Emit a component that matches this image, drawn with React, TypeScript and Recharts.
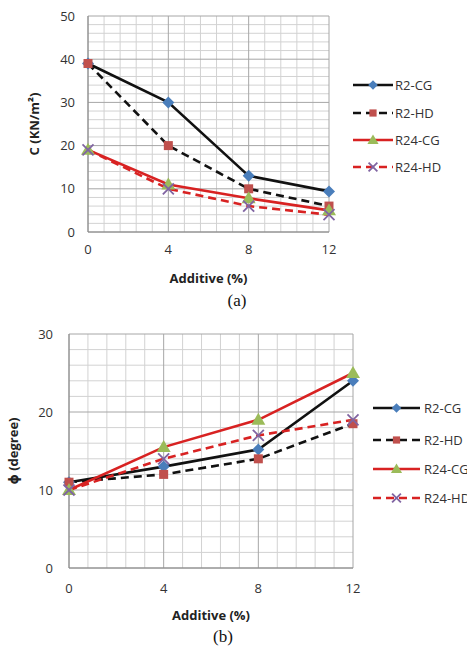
import { LineChart, Line, XAxis, YAxis, ReferenceLine } from "recharts";

// additive content (%)
const additive = [0, 4, 8, 12];

// (a) cohesion C (kN/m2)
const cR2CG = [39, 30, 13, 9.4];
const cR2HD = [39, 20, 10, 6];
const cR24CG = [19, 11, 7.8, 5];
const cR24HD = [19, 10, 6, 4];

// (b) friction angle phi (degree)
const pR2CG = [11, 13, 15.2, 24];
const pR2HD = [11, 12, 14, 18.5];
const pR24CG = [10, 15.5, 19, 25];
const pR24HD = [10, 14, 17, 19];

const seriesNames = ["R2-CG", "R2-HD", "R24-CG", "R24-HD"];

const cTicks = [0, 10, 20, 30, 40, 50];
const pTicks = [0, 10, 20, 30];
const cMinor = [2, 4, 6, 8, 12, 14, 16, 18, 22, 24, 26, 28, 32, 34, 36, 38, 42, 44, 46, 48];
const pMinor = [2, 4, 6, 8, 12, 14, 16, 18, 22, 24, 26, 28];
const xMinor = [0.8, 1.6, 2.4, 3.2, 4.8, 5.6, 6.4, 7.2, 8.8, 9.6, 10.4, 11.2];

const dataA = additive.map((x, i) => ({ x, a: cR2CG[i], b: cR2HD[i], c: cR24CG[i], d: cR24HD[i] }));
const dataB = additive.map((x, i) => ({ x, a: pR2CG[i], b: pR2HD[i], c: pR24CG[i], d: pR24HD[i] }));

const FONT = "'Open Sans', 'DejaVu Sans', sans-serif";
const RED = "#d82222";
const MAJOR = "#a6a6a6";
const MINOR = "#d2d2d2";
const tickStyle = { fontSize: 13, fill: "#333", fontFamily: FONT };
const labelStyle = { fontSize: 13, fontWeight: 700, fill: "#222", fontFamily: FONT, textAnchor: "middle" as const };

type MarkerKind = "diamond" | "square" | "triangle" | "cross";

function Marker({ kind, cx, cy, s = 1 }: { kind: MarkerKind; cx: number; cy: number; s?: number }) {
  if (cx == null || cy == null) return null;
  if (kind === "diamond") {
    const r = 6 * s;
    return <polygon points={`${cx},${cy - r} ${cx + r},${cy} ${cx},${cy + r} ${cx - r},${cy}`} fill="#4a7ebb" />;
  }
  if (kind === "square") {
    const h = 4.5 * s;
    return <rect x={cx - h} y={cy - h} width={h * 2} height={h * 2} fill="#c0504d" />;
  }
  if (kind === "triangle") {
    const r = 7 * s;
    return <polygon points={`${cx},${cy - r} ${cx + r},${cy + r * 0.7} ${cx - r},${cy + r * 0.7}`} fill="#9bbb59" />;
  }
  const r = 5.5 * s;
  return (
    <g stroke="#8064a2" strokeWidth={1.8}>
      <line x1={cx - r} y1={cy - r} x2={cx + r} y2={cy + r} />
      <line x1={cx - r} y1={cy + r} x2={cx + r} y2={cy - r} />
    </g>
  );
}

const styles: { key: string; color: string; dash?: string; marker: MarkerKind }[] = [
  { key: "a", color: "#111", marker: "diamond" },
  { key: "b", color: "#111", dash: "8 5", marker: "square" },
  { key: "c", color: RED, marker: "triangle" },
  { key: "d", color: RED, dash: "8 5", marker: "cross" },
];

function renderLines() {
  return styles.map((s) => (
    <Line
      key={s.key}
      type="linear"
      dataKey={s.key}
      stroke={s.color}
      strokeWidth={2.6}
      strokeDasharray={s.dash}
      dot={(p: any) => <Marker key={`${s.key}-${p.index}`} kind={s.marker} cx={p.cx} cy={p.cy} />}
      activeDot={false}
      isAnimationActive={false}
    />
  ));
}

// grid drawn as reference lines: light minor lines, darker major lines
function gridLines(yMinor: number[], yMajor: number[]) {
  return [
    ...yMinor.map((v) => <ReferenceLine key={`hm${v}`} y={v} stroke={MINOR} strokeWidth={1} />),
    ...xMinor.map((v) => <ReferenceLine key={`vm${v}`} x={v} stroke={MINOR} strokeWidth={1} />),
    ...yMajor.map((v) => <ReferenceLine key={`h${v}`} y={v} stroke={MAJOR} strokeWidth={1} />),
    ...additive.map((v) => <ReferenceLine key={`v${v}`} x={v} stroke={MAJOR} strokeWidth={1} />),
  ];
}

function LegendBox({ left, top, rows, lineLen, gap }: { left: number; top: number; rows: number[]; lineLen: number; gap: number }) {
  return (
    <svg style={{ position: "absolute", left, top, overflow: "visible" }} width={120} height={110}>
      {styles.map((s, i) => (
        <g key={s.key}>
          <line x1={0} y1={rows[i]} x2={lineLen} y2={rows[i]} stroke={s.color} strokeWidth={2.6} strokeDasharray={s.dash} />
          <Marker kind={s.marker} cx={lineLen / 2} cy={rows[i]} s={0.8} />
          <text x={lineLen + gap} y={rows[i]} dy="0.36em" fontSize={13} fill="#333" fontFamily={FONT}>
            {seriesNames[i]}
          </text>
        </g>
      ))}
    </svg>
  );
}

export default function App() {
  return (
    <div style={{ position: "fixed", left: 0, top: 0, width: 467, height: 648, overflow: "hidden", background: "#fff" }}>
      <div style={{ position: "absolute", left: 0, top: 0 }}>
        <LineChart width={340} height={290} data={dataA} margin={{ top: 16, right: 11, left: 0, bottom: 0 }}>
          {gridLines(cMinor, cTicks)}
          <XAxis
            type="number"
            dataKey="x"
            domain={[0, 12]}
            ticks={additive}
            height={58}
            tick={tickStyle}
            tickLine={false}
            tickMargin={7}
            axisLine={{ stroke: "#888" }}
            label={{ value: "Additive (%)", position: "insideBottom", offset: 7, style: labelStyle }}
          />
          <YAxis
            type="number"
            domain={[0, 50]}
            ticks={cTicks}
            width={88}
            tick={tickStyle}
            tickLine={false}
            tickMargin={7}
            axisLine={{ stroke: "#888" }}
            label={{ value: "C (KN/m²)", angle: -90, position: "insideLeft", offset: 34, style: labelStyle }}
          />
          {renderLines()}
        </LineChart>
      </div>
      <LegendBox left={353} top={0} rows={[85, 113, 140, 167]} lineLen={40} gap={2} />
      <div style={{ position: "absolute", left: 0, width: 474, top: 291, textAlign: "center", fontFamily: "'Liberation Serif', serif", fontSize: 17, color: "#111" }}>
        (a)
      </div>

      <div style={{ position: "absolute", left: 0, top: 300 }}>
        <LineChart width={370} height={323} data={dataB} margin={{ top: 34, right: 17, left: 0, bottom: 0 }}>
          {gridLines(pMinor, pTicks)}
          <XAxis
            type="number"
            dataKey="x"
            domain={[0, 12]}
            ticks={additive}
            height={55}
            tick={tickStyle}
            tickLine={false}
            tickMargin={10}
            axisLine={{ stroke: "#888" }}
            label={{ value: "Additive (%)", position: "insideBottom", offset: 3, style: labelStyle }}
          />
          <YAxis
            type="number"
            domain={[0, 30]}
            ticks={pTicks}
            width={69}
            tick={tickStyle}
            tickLine={false}
            tickMargin={10}
            axisLine={{ stroke: "#888" }}
            label={{ value: "ϕ (degree)", angle: -90, position: "insideLeft", offset: 13, style: labelStyle }}
          />
          {renderLines()}
        </LineChart>
      </div>
      <LegendBox left={373} top={300} rows={[108, 140, 169, 198]} lineLen={47} gap={4} />
      <div style={{ position: "absolute", left: 0, width: 446, top: 627, textAlign: "center", fontFamily: "'Liberation Serif', serif", fontSize: 17, color: "#111" }}>
        (b)
      </div>
    </div>
  );
}
